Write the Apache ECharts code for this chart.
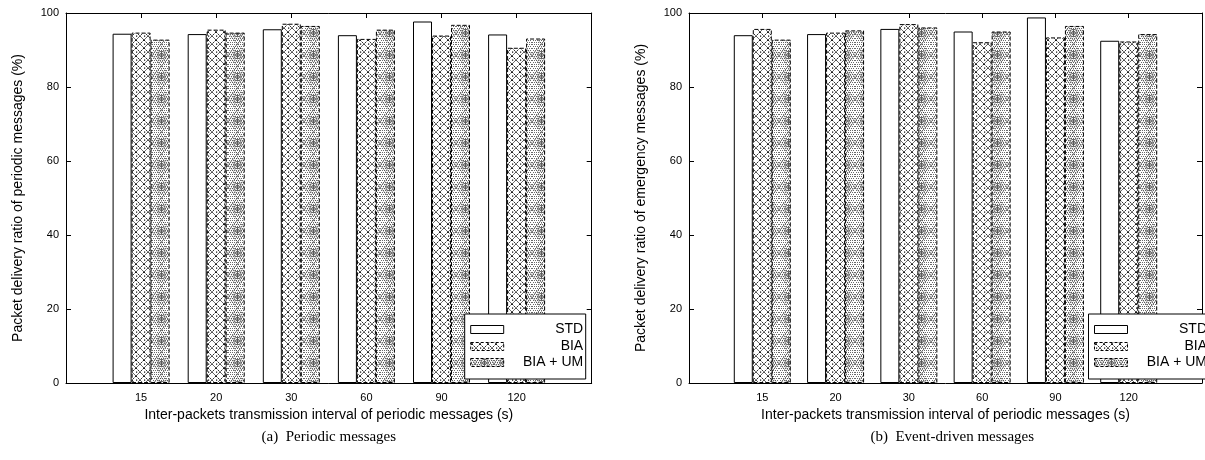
<!DOCTYPE html>
<html>
<head>
<meta charset="utf-8">
<script src="https://cdn.jsdelivr.net/npm/echarts@6/dist/echarts.min.js"></script>
<style>
  html, body { margin: 0; padding: 0; background: #fff; }
  #chart { width: 1205px; height: 460px; }
</style>
</head>
<body>
<div id="chart"></div>
<script>
// Inter-packet transmission intervals (s)
const intervals = ['15', '20', '30', '60', '90', '120'];
const seriesNames = ['STD', 'BIA', 'BIA + UM'];

// (a) packet delivery ratio of periodic messages (%)
const periodicSTD = [94.4, 94.3, 95.6, 94.0, 97.7, 94.2];
const periodicBIA = [94.7, 95.5, 97.1, 93.0, 93.9, 90.6];
const periodicUM  = [92.8, 94.7, 96.5, 95.5, 96.8, 93.1];

// (b) packet delivery ratio of emergency (event-driven) messages (%)
const eventSTD = [94.0, 94.3, 95.7, 95.0, 98.8, 92.5];
const eventBIA = [95.7, 94.7, 97.0, 92.1, 93.4, 92.3];
const eventUM  = [92.8, 95.3, 96.1, 95.0, 96.5, 94.3];

const FONT = '"Liberation Sans", Arial, Helvetica, sans-serif';
const SERIF = '"Liberation Serif", "Times New Roman", serif';

// ---- hatch patterns ----
function crossPattern() {
  const c = document.createElement('canvas');
  c.width = 8; c.height = 8;
  const g = c.getContext('2d');
  g.fillStyle = '#fff'; g.fillRect(0, 0, 8, 8);
  g.strokeStyle = '#000'; g.lineWidth = 0.9;
  g.setLineDash([2, 1]);
  g.beginPath();
  g.moveTo(0, 0); g.lineTo(8, 8);
  g.moveTo(8, 0); g.lineTo(0, 8);
  g.stroke();
  g.fillStyle = '#000';
  g.fillRect(0, 3.5, 1.2, 1.2);
  return { image: c, repeat: 'repeat' };
}
function ringPattern() {
  const w = 19, h = 22;
  const c = document.createElement('canvas');
  c.width = w; c.height = h;
  const g = c.getContext('2d');
  g.fillStyle = '#fff'; g.fillRect(0, 0, w, h);
  // fine dotted background texture
  g.fillStyle = '#6a6a6a';
  for (let y = 0; y < h; y += 2) {
    for (let x = (y / 2) % 2; x < w; x += 2) g.fillRect(x, y, 1, 1);
  }
  g.strokeStyle = '#333'; g.lineWidth = 0.8;
  g.setLineDash([1.5, 1]);
  // nested diamonds
  [[0, 0], [3, 3.5]].forEach(([dx, dy]) => {
    g.beginPath();
    g.moveTo(w / 2, dy); g.lineTo(w - dx, h / 2);
    g.lineTo(w / 2, h - dy); g.lineTo(dx, h / 2); g.closePath();
    g.stroke();
  });
  g.setLineDash([]);
  g.fillStyle = '#fff';
  g.beginPath(); g.arc(w / 2, h / 2, 3.8, 0, Math.PI * 2); g.fill();
  g.strokeStyle = '#444';
  g.beginPath(); g.arc(w / 2, h / 2, 3.8, 0, Math.PI * 2); g.stroke();
  g.beginPath(); g.arc(w / 2, h / 2, 1.9, 0, Math.PI * 2); g.stroke();
  g.beginPath();
  g.moveTo(w / 2 - 3.8, h / 2); g.lineTo(w / 2 + 3.8, h / 2);
  g.moveTo(w / 2, h / 2 - 3.8); g.lineTo(w / 2, h / 2 + 3.8);
  g.stroke();
  return { image: c, repeat: 'repeat' };
}
const fills = ['#ffffff', crossPattern(), ringPattern()];
const borderTypes = ['solid', 'dashed', 'dashed'];

// ---- layout of the two panels ----
const panels = [
  {
    left: 66, width: 525.7,
    yName: 'Packet delivery ratio of periodic messages (%)',
    caption: '(a)  Periodic messages',
    data: [periodicSTD, periodicBIA, periodicUM]
  },
  {
    left: 689, width: 526.5,
    yName: 'Packet delivery ratio of emergency messages (%)',
    caption: '(b)  Event-driven messages',
    data: [eventSTD, eventBIA, eventUM]
  }
];
const TOP = 13, HEIGHT = 370;

// categories sit at positions 1..6 of a 0..7 span
const axisCats = [''].concat(intervals, ['']);
const pad = arr => [null].concat(arr, [null]);

const grid = [], xAxis = [], yAxis = [], series = [], graphic = [];
const lineStyle = { color: '#000', width: 1 };

panels.forEach((p, i) => {
  grid.push({ left: p.left, top: TOP, width: p.width, height: HEIGHT, containLabel: false });
  const xBase = {
    type: 'category', gridIndex: i, data: axisCats, boundaryGap: false,
    axisLine: { onZero: false, lineStyle }, splitLine: { show: false },
    axisTick: { inside: true, length: 5, lineStyle }
  };
  xAxis.push(Object.assign({}, xBase, {
    position: 'bottom',
    axisLabel: { fontFamily: FONT, fontSize: 11, color: '#000', margin: 9 },
    name: 'Inter-packets transmission interval of periodic messages (s)',
    nameLocation: 'middle', nameGap: 20,
    nameTextStyle: { fontFamily: FONT, fontSize: 14, color: '#000' }
  }));
  xAxis.push(Object.assign({}, xBase, { position: 'top', axisLabel: { show: false } }));
  const yBase = {
    type: 'value', gridIndex: i, min: 0, max: 100, interval: 20,
    axisLine: { show: true, onZero: false, lineStyle }, splitLine: { show: false },
    axisTick: { show: true, inside: true, length: 5, lineStyle }
  };
  yAxis.push(Object.assign({}, yBase, {
    position: 'left',
    axisLabel: { fontFamily: FONT, fontSize: 11, color: '#000', margin: 7 },
    name: p.yName, nameLocation: 'middle', nameGap: 41, nameRotate: 90,
    nameTextStyle: { fontFamily: FONT, fontSize: 14, color: '#000' }
  }));
  yAxis.push(Object.assign({}, yBase, { position: 'right', axisLabel: { show: false } }));

  p.data.forEach((vals, k) => {
    series.push({
      type: 'bar', name: seriesNames[k],
      xAxisIndex: i * 2, yAxisIndex: i * 2,
      data: pad(vals), barWidth: 19, barGap: '0%',
      itemStyle: { color: fills[k], borderColor: '#000', borderWidth: 1, borderType: borderTypes[k] },
      emphasis: { disabled: true }, silent: true, animation: false
    });
  });

  // key box in the lower-right corner of each panel
  const right = p.left + p.width;
  const bx = right - 127, by = 314, bw = 121, bh = 65;
  graphic.push({
    type: 'rect', z: 100,
    shape: { x: bx, y: by, width: bw, height: bh },
    style: { fill: '#fff', stroke: '#000', lineWidth: 1 }
  });
  const rows = [329.5, 346.5, 362.5];
  seriesNames.forEach((name, k) => {
    graphic.push({
      type: 'rect', z: 101,
      shape: { x: bx + 6, y: rows[k] - 4, width: 33, height: 8 },
      style: { fill: fills[k], stroke: '#000', lineWidth: 1, lineDash: k ? [3, 2] : null }
    });
    graphic.push({
      type: 'text', z: 101, x: right - 8.5, y: rows[k],
      style: { text: name, align: 'right', verticalAlign: 'middle', font: '14px ' + FONT, fill: '#000' }
    });
  });

  graphic.push({
    type: 'text', x: p.left + p.width / 2, y: 437,
    style: { text: p.caption, align: 'center', verticalAlign: 'middle', font: '15px ' + SERIF, fill: '#000' }
  });
});

const chart = echarts.init(document.getElementById('chart'), null, { renderer: 'canvas' });
chart.setOption({
  animation: false,
  backgroundColor: '#fff',
  grid, xAxis, yAxis, series, graphic
});
</script>
</body>
</html>
